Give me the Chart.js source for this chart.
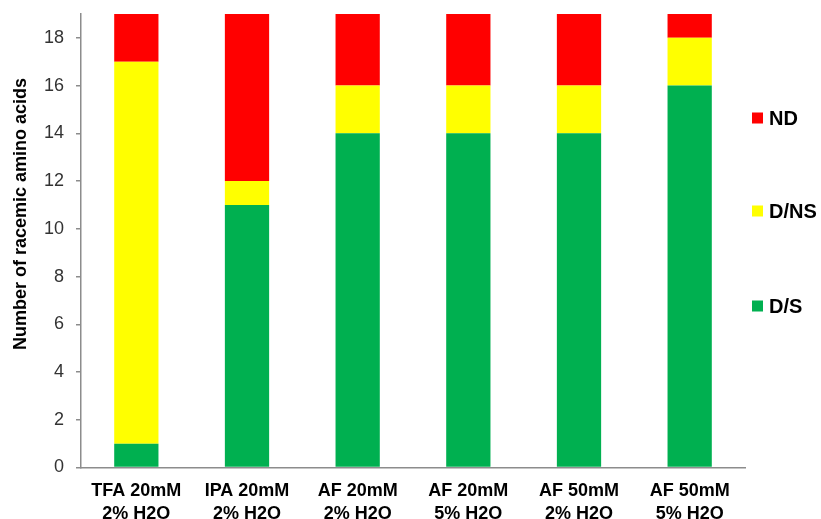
<!DOCTYPE html>
<html>
<head>
<meta charset="utf-8">
<script src="https://cdn.jsdelivr.net/npm/chart.js@4/dist/chart.umd.min.js"></script>
<style>
  html, body { margin: 0; padding: 0; background: #fff; }
  #wrap { width: 821px; height: 519px; }
</style>
</head>
<body>
<div id="wrap"><canvas id="c" width="821" height="519"></canvas></div>
<script>
const categories = [
  ['TFA 20mM', '2% H2O'],
  ['IPA 20mM', '2% H2O'],
  ['AF 20mM', '2% H2O'],
  ['AF 20mM', '5% H2O'],
  ['AF 50mM', '2% H2O'],
  ['AF 50mM', '5% H2O']
];
const seriesNames = ['D/S', 'D/NS', 'ND'];
const valuesDS  = [1, 11, 14, 14, 14, 16];
const valuesDNS = [16, 1, 2, 2, 2, 2];
const valuesND  = [2, 7, 3, 3, 3, 1];
const yTickValues = [0, 2, 4, 6, 8, 10, 12, 14, 16, 18];
const yMax = 19;
const yTitle = 'Number of racemic amino acids';

const colors = ['#00B050', '#FFFF00', '#FF0000'];

const sideDecor = {
  id: 'sideDecor',
  afterDraw(chart) {
    const ctx = chart.ctx;
    ctx.save();
    ctx.font = 'bold 18px "Liberation Sans", Arial, sans-serif';
    ctx.fillStyle = '#000';
    ctx.textAlign = 'center';
    ctx.textBaseline = 'middle';
    ctx.translate(21, 214);
    ctx.rotate(-Math.PI / 2);
    ctx.fillText(yTitle, 0, 0);
    ctx.restore();

    ctx.save();
    ctx.font = 'bold 20px "Liberation Sans", Arial, sans-serif';
    ctx.textAlign = 'left';
    ctx.textBaseline = 'middle';
    const ds = chart.data.datasets;
    const centers = [118, 211, 306];
    for (let i = 0; i < ds.length; i++) {
      const d = ds[ds.length - 1 - i];
      const cy = centers[i];
      ctx.fillStyle = d.backgroundColor;
      ctx.fillRect(752, cy - 5.5, 11, 11);
      ctx.fillStyle = '#000';
      ctx.fillText(d.label, 769, cy + 1);
    }
    ctx.restore();
  }
};

new Chart(document.getElementById('c'), {
  type: 'bar',
  data: {
    labels: categories,
    datasets: [
      { label: seriesNames[0], data: valuesDS,  backgroundColor: colors[0] },
      { label: seriesNames[1], data: valuesDNS, backgroundColor: colors[1] },
      { label: seriesNames[2], data: valuesND,  backgroundColor: colors[2] }
    ]
  },
  options: {
    responsive: false,
    animation: false,
    devicePixelRatio: 1,
    layout: { padding: { left: 0, top: 14, right: 76, bottom: 0 } },
    datasets: { bar: { categoryPercentage: 1.0, barPercentage: 0.4, borderWidth: 0 } },
    plugins: { legend: { display: false }, tooltip: { enabled: false } },
    scales: {
      x: {
        stacked: true,
        grid: { display: false, drawTicks: false },
        border: { display: true, color: '#8c8c8c', width: 1.5 },
        ticks: {
          color: '#000',
          padding: 12,
          font: { family: '"Liberation Sans", Arial, sans-serif', size: 18, weight: 'bold', lineHeight: 1.27 },
          maxRotation: 0, autoSkip: false
        },
        afterFit(s) { s.height = 51.5; s.paddingLeft = 0; s.paddingRight = 0; }
      },
      y: {
        stacked: true,
        min: 0,
        max: yMax,
        grid: { display: true, drawOnChartArea: false, drawTicks: true, tickLength: 5, color: '#8c8c8c', lineWidth: 1.5 },
        border: { display: true, color: '#8c8c8c', width: 1.5 },
        ticks: {
          color: '#333',
          padding: 12,
          font: { family: '"Liberation Sans", Arial, sans-serif', size: 18 }
        },
        afterBuildTicks(s) { s.ticks = yTickValues.map(v => ({ value: v })); },
        afterFit(s) { s.width = 81; s.paddingTop = 0; s.paddingBottom = 0; }
      }
    }
  },
  plugins: [sideDecor]
});
</script>
</body>
</html>
